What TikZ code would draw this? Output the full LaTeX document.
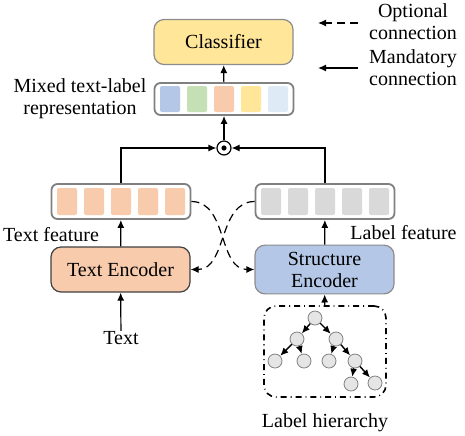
\documentclass[tikz,border=0pt]{standalone}
\usepackage{fontspec}
\setmainfont{Liberation Serif}
\usetikzlibrary{positioning,arrows.meta}

\definecolor{cblue}{HTML}{B4C7E7}
\definecolor{cgreen}{HTML}{C5E0B4}
\definecolor{corange}{HTML}{F8CBAD}
\definecolor{cyellow}{HTML}{FFE699}
\definecolor{clight}{HTML}{DEEBF7}
\definecolor{cgray}{HTML}{D9D9D9}

\tikzset{
  block/.style={draw=gray!90, rounded corners=5pt, minimum width=69.5pt, minimum height=22.5pt,
    align=center, font=\fontsize{10}{12}\selectfont, line width=0.6pt},
  featbar/.style={draw=gray, rounded corners=3pt, minimum width=69.5pt, minimum height=17.5pt,
    line width=0.9pt, fill=white},
  cell/.style={rounded corners=1pt, minimum width=10pt, minimum height=13.5pt, inner sep=0pt},
  tnode/.style={circle, draw=gray, fill=gray!20, minimum size=7pt, inner sep=0pt, line width=0.4pt},
  conn/.style={-{Latex[length=4pt,width=3.5pt]}, line width=0.6pt},
  optconn/.style={conn, dash pattern=on 4pt off 2.5pt},
  lbl/.style={align=center, inner sep=0pt, font=\fontsize{10}{11}\selectfont},
}

\begin{document}
\begin{tikzpicture}[x=0.5pt,y=-0.5pt]
\useasboundingbox (0,0) rectangle (465,435);

% blocks
\node[block, fill=cyellow] (cls) at (223.5,42) {Classifier};
\node[block, fill=corange, draw=black!75] (tenc) at (120.5,269.5) {Text Encoder};
\node[block, fill=cblue] (senc) at (324.5,269.5) {Structure\\[-1pt]Encoder};

% feature bars
\node[featbar, minimum height=16pt] (mixed) at (224,99) {};
\node[featbar] (tfeat) at (121,201.5) {};
\node[featbar] (lfeat) at (325,201.5) {};
\foreach \c [count=\i] in {cblue,cgreen,corange,cyellow,clight}
  \node[cell, fill=\c, minimum height=13pt] (mix\i) at ({143+27*\i},99) {};
\foreach \i in {1,...,5} {
  \node[cell, fill=corange] (tf\i) at ({40+27*\i},201.5) {};
  \node[cell, fill=cgray] (lf\i) at ({244+27*\i},201.5) {};
}

% combination
\node[circle, draw, fill=white, minimum size=7pt, inner sep=0pt, line width=0.6pt] (dot) at (224,148) {};
\fill (dot.center) circle (1.3pt);

% labels
\node[lbl] (tfl) at (51,235) {Text feature};
\node[lbl] (lfl) at (403.5,233) {Label feature};
\node[lbl] (mixl) at (80,99) {Mixed text-label\\representation};
\node[lbl] (txt) at (121,338) {Text};
\node[lbl] (lhl) at (325,423) {Label hierarchy};

% label hierarchy
\node[draw, dash dot, rounded corners=6pt, minimum width=61pt, minimum height=45.5pt,
  line width=0.8pt] (hier) at (325,351.5) {};
\node[tnode] (r) at (315,318) {};
\node[tnode] (a) at (297,339) {};
\node[tnode] (b) at (336,339) {};
\node[tnode] (a1) at (275,361) {};
\node[tnode] (a2) at (304,361) {};
\node[tnode] (b1) at (329,361) {};
\node[tnode] (b2) at (355,361) {};
\node[tnode] (c1) at (351,384) {};
\node[tnode] (c2) at (375,383) {};
\foreach \u/\v in {r/a,r/b,a/a1,a/a2,b/b1,b/b2,b2/c1,b2/c2}
  \draw[-{Latex[length=4pt,width=3.5pt]}, line width=0.7pt] (\u) -- (\v);

% connections
\draw[conn] (txt) -- (tenc);
\draw[conn] (hier) -- (senc);
\draw[conn] (tenc) -- (tfeat);
\draw[conn] (senc) -- (lfeat);
\draw[conn] (tfeat.north) |- (dot);
\draw[conn] (lfeat.north) |- (dot);
\draw[conn] (dot) -- (mixed);
\draw[conn] (mixed) -- (cls);
\draw[optconn] (tfeat.east) to[out=0,in=180] (senc.west);
\draw[optconn] (lfeat.west) to[out=180,in=0] (tenc.east);

% legend
\node[lbl] (optl) at (413,22) {Optional\\connection};
\node[lbl] (manl) at (413,68) {Mandatory\\connection};
\coordinate (opta) at (358,23);
\coordinate (optb) at (318,23);
\coordinate (mana) at (358,68);
\coordinate (manb) at (318,68);
\draw[optconn] (opta) -- (optb);
\draw[conn] (mana) -- (manb);
\end{tikzpicture}
\end{document}
